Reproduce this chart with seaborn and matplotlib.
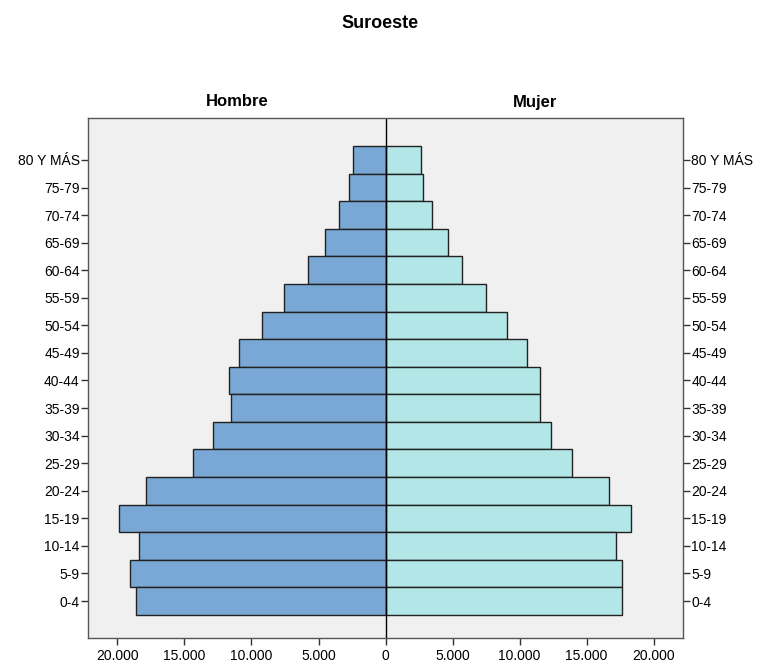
import pandas as pd
import matplotlib
matplotlib.use("Agg")
import matplotlib.pyplot as plt
from matplotlib.ticker import FuncFormatter
import seaborn as sns

# grupos de edad, de arriba a abajo
edades = ["80 Y MÁS", "75-79", "70-74", "65-69", "60-64", "55-59", "50-54",
          "45-49", "40-44", "35-39", "30-34", "25-29", "20-24", "15-19",
          "10-14", "5-9", "0-4"]
hombre = [2390, 2690, 3500, 4550, 5820, 7610, 9250, 10900, 11700, 11500,
          12900, 14400, 17900, 19850, 18400, 19100, 18650]
mujer = [2610, 2760, 3500, 4630, 5740, 7460, 9030, 10520, 11560, 11560,
         12380, 13880, 16710, 18280, 17160, 17680, 17680]
ticks_x = [-20000, -15000, -10000, -5000, 0, 5000, 10000, 15000, 20000]

df = pd.concat([
    pd.DataFrame({"edad": edades, "valor": [-v for v in hombre], "sexo": "Hombre"}),
    pd.DataFrame({"edad": edades, "valor": mujer, "sexo": "Mujer"}),
])

sns.set_style("white")
plt.rcParams["font.family"] = ["Liberation Sans", "DejaVu Sans"]

fig = plt.figure(figsize=(7.61, 6.64), dpi=100)
ax = fig.add_axes([0.1156, 0.0392, 0.782, 0.783])
ax.set_facecolor("#f0f0f0")

sns.barplot(data=df, y="edad", x="valor", hue="sexo", order=edades,
            dodge=False, width=1.0, orient="h", saturation=1,
            palette={"Hombre": "#7aa8d6", "Mujer": "#b3e6e6"},
            edgecolor="#222222", linewidth=1.0, legend=False, ax=ax)

ax.axvline(0, color="black", linewidth=1.0)
ax.set_xlim(-22200, 22200)
ax.set_ylim(16 + 1.34, -1.52)
ax.set_xticks(ticks_x)
ax.xaxis.set_major_formatter(FuncFormatter(lambda v, p: f"{abs(int(v)):,}".replace(",", ".")))
ax.set_xlabel("")
ax.set_ylabel("")
ax.tick_params(axis="both", direction="out", length=5, width=1, color="#333333",
               labelsize=10, labelcolor="black")
ax.tick_params(axis="y", right=True, labelright=True, left=True, pad=1)
ax.tick_params(axis="x", bottom=True, pad=3)
for s in ax.spines.values():
    s.set_color("#555555")
    s.set_linewidth(1.0)

fig.text(0.5, 1 - 24 / 664, "Suroeste", ha="center", va="center",
         fontsize=13, fontweight="bold", color="black")
fig.text(237 / 761, 1 - 102 / 664, "Hombre", ha="center", va="center",
         fontsize=12, fontweight="bold", color="black")
fig.text(535 / 761, 1 - 102 / 664, "Mujer", ha="center", va="center",
         fontsize=12, fontweight="bold", color="black")

fig.savefig("out.png", dpi=100)
